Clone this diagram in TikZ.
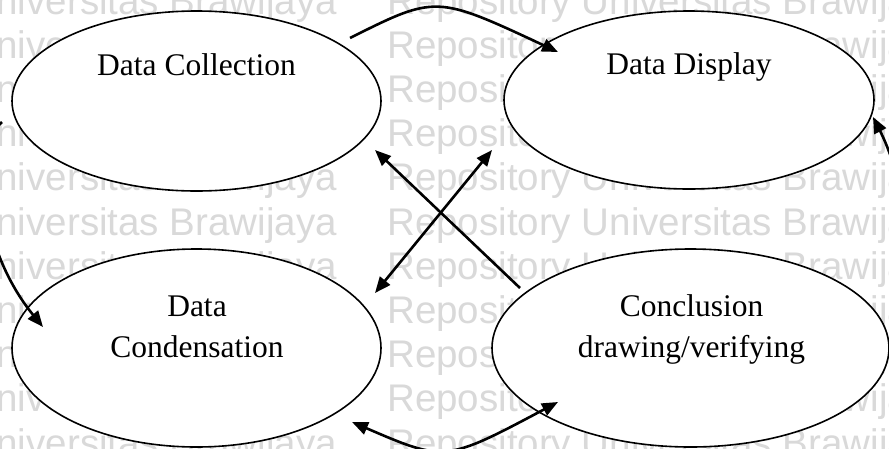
\documentclass[tikz,border=0pt]{standalone}
\usepackage{fontspec}
\setmainfont{Liberation Serif}
\newfontfamily\wmfont{Liberation Sans}
\usetikzlibrary{arrows.meta,shapes.geometric,calc}
\definecolor{wmgray}{gray}{0.85}
\begin{document}
\begin{tikzpicture}[x=1pt,y=-1pt,
  oval/.style={draw, ellipse, line width=1.6pt, fill=white, inner sep=0pt},
  lbl/.style={font=\fontsize{31.5}{41}\selectfont, inner sep=0pt, anchor=base},
  tip/.tip={Triangle[length=16pt,width=13pt]},
  arr/.style={line width=2.6pt, -tip},
  darr/.style={line width=2.6pt, tip-tip},
  wm/.style={font=\wmfont\fontsize{38.5}{44}\selectfont, text=wmgray, inner sep=0pt}]
\useasboundingbox (0,0) rectangle (889,448);
\clip (0,0) rectangle (889,448);
\fill[white] (0,0) rectangle (889,448);
\foreach \i in {0,...,10} {
  \node[wm, anchor=base east] (wl\i) at (337, 14+44.2*\i) {Universitas Brawijaya};
  \node[wm, anchor=base west] (wr\i) at (387, 14+44.2*\i) {Repository Universitas Brawijaya};
}
% ellipses
\node[oval, minimum width=369pt, minimum height=180pt] (dc) at (196.5,101) {};
\node[oval, minimum width=370pt, minimum height=178pt] (dd) at (689,100) {};
\node[oval, minimum width=369pt, minimum height=198pt] (dn) at (196.5,348) {};
\node[oval, minimum width=397pt, minimum height=198pt] (cc) at (690.5,348) {};
% labels
\node[lbl] (tdc) at (196.5,75) {Data Collection};
\node[lbl] (tdd) at (689,74) {Data Display};
\node[lbl, align=center] (tdn) at (197,357) {Data\\Condensation};
\node[lbl, align=center] (tcc) at (691.5,357) {Conclusion\\drawing/verifying};
% connectors
\draw[arr] ($(dc)+(153.5,-63)$) .. controls (436,-5) .. ($(dd)+(-131,-48)$);
\draw[arr] ($(dc)+(-194.5,21)$) .. controls (-30,150) and (-20,250) .. ($(dn)+(-153.5,-21)$);
\draw[arr] ($(cc)+(199.5,-21)$) .. controls (920,300) and (910,190) .. ($(dd)+(184,17)$);
\draw[darr] ($(dn)+(155.5,74)$) .. controls (445,462) .. ($(cc)+(-132.5,54)$);
\draw[arr] ($(cc)+(-170.5,-60)$) -- ($(dc)+(178.5,49)$);
\draw[darr] ($(dn)+(178.5,-55)$) -- ($(dd)+(-197,50)$);
\end{tikzpicture}
\end{document}
